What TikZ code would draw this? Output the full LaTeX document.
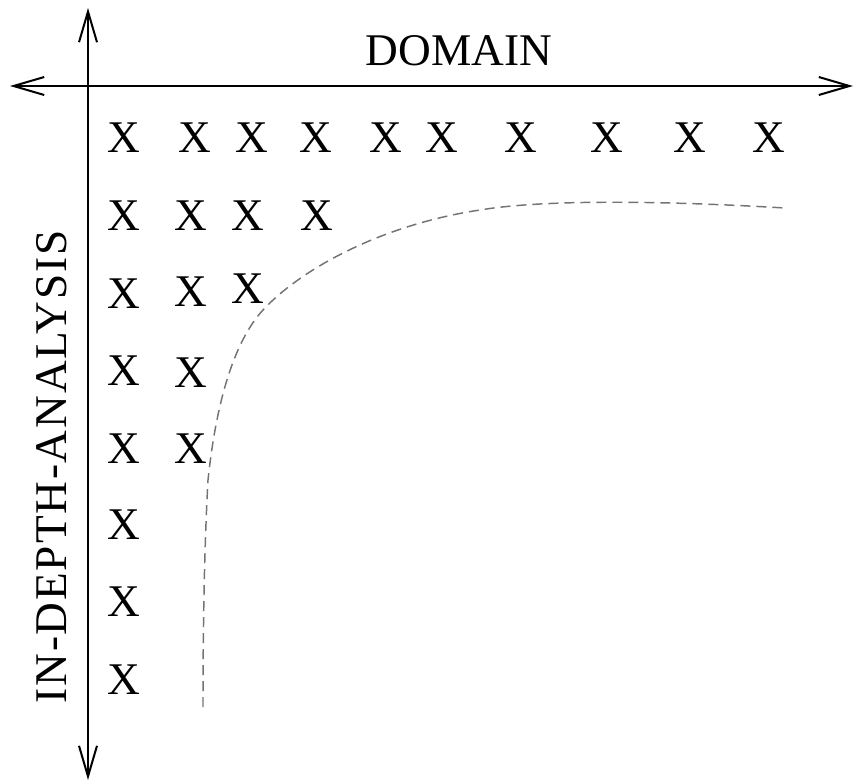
\documentclass[tikz,border=0pt]{standalone}
\usepackage{fontspec}
\setmainfont{Liberation Serif}
\usetikzlibrary{arrows.meta}
\begin{document}
\begin{tikzpicture}[x=0.75pt,y=-0.75pt,
  axis/.style={line width=1.5pt,
    {Straight Barb[length=23pt 0 0,width=13.5pt 0 0,line width=1.5pt]}-{Straight Barb[length=23pt 0 0,width=13.5pt 0 0,line width=1.5pt]}},
  cross/.style={font=\fontsize{34}{40}\selectfont, inner sep=0pt},
  lbl/.style={font=\fontsize{34}{40}\selectfont, inner sep=0pt},
  boundary/.style={draw=black!55, line width=1.1pt, dash pattern=on 7.5pt off 4.5pt}]
\useasboundingbox (0,0) rectangle (856,782);

% axes
\coordinate (left) at (10,86);
\coordinate (right) at (853,86);
\coordinate (top) at (88,8);
\coordinate (bottom) at (88,780);
\draw[axis] (left) -- (right);
\draw[axis] (bottom) -- (top);

% axis labels
\node[lbl] (domain) at (459,51) {DOMAIN};
\node[lbl, rotate=90] (depth) at (52,467) {\addfontfeature{LetterSpace=4}IN-DEPTH-ANALYSIS};

% row 1
\foreach \x [count=\i] in {124,195,252,316,386,442,521,607,690,769}
  \node[cross] (r1c\i) at (\x,138) {X};
% row 2
\foreach \x [count=\i] in {124,191,248,317}
  \node[cross] (r2c\i) at (\x,216) {X};
% row 3
\node[cross] (r3c1) at (124,294) {X};
\node[cross] (r3c2) at (191,292) {X};
\node[cross] (r3c3) at (248,289) {X};
% rows 4 and 5
\node[cross] (r4c1) at (124,371) {X};
\node[cross] (r4c2) at (191,373) {X};
\node[cross] (r5c1) at (124,449) {X};
\node[cross] (r5c2) at (191,449) {X};
% rows 6 to 8
\node[cross] (r6c1) at (124,525) {X};
\node[cross] (r7c1) at (124,602) {X};
\node[cross] (r8c1) at (124,680) {X};

% dashed boundary curve
\coordinate (b0) at (203,707);
\coordinate (b1) at (208,480);
\coordinate (b2) at (263,310);
\coordinate (b3) at (480,210);
\coordinate (b4) at (785,208);
\draw[boundary] (b0) .. controls (203,600) and (205.3,530) .. (b1)
  .. controls (218,385) and (240,335) .. (b2)
  .. controls (300,270) and (380,225) .. (b3)
  .. controls (540,200) and (650,200) .. (b4);
\end{tikzpicture}
\end{document}
